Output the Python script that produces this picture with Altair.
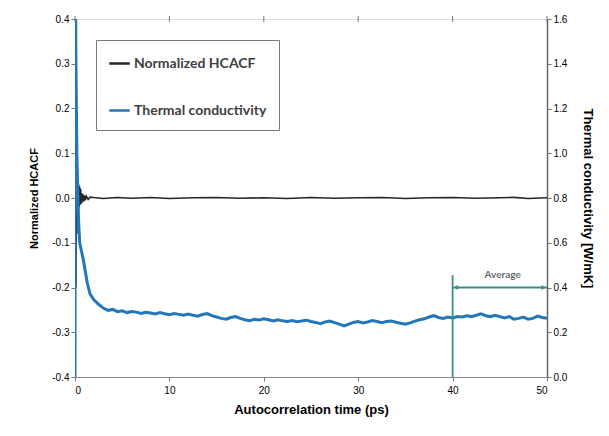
import altair as alt
import pandas as pd

# Normalized HCACF (left axis)
hcacf_t = [0, 0.02, 0.05, 0.08, 0.1, 0.13, 0.16, 0.2, 0.24, 0.28, 0.32, 0.36, 0.4, 0.45,
           0.5, 0.55, 0.6, 0.7, 0.8, 0.9, 1.0, 1.1, 1.2, 1.4, 1.6, 2.0, 3.0, 4.5, 6.0, 8.0,
           10.0, 12.5, 15.0, 17.5, 20.0, 22.5, 25.0, 27.5, 30.0, 32.5, 35.0, 37.5, 40.0,
           42.5, 45.0, 46.5, 48.0, 50.0]
hcacf_v = [1.0, 0.8, 0.45, 0.1, -0.2, -0.05, 0.06, -0.08, 0.04, -0.05, 0.035, -0.03, 0.03, -0.02,
           0.025, -0.015, 0.02, -0.012, 0.01, -0.008, 0.006, -0.005, 0.004, -0.003, 0.002, 0.001,
           -0.001, 0.001, -0.0005, 0.001, -0.001, 0.0005, 0.001, -0.0005, 0.0005, -0.001, 0.001,
           -0.0005, 0.0005, 0.001, -0.001, 0.0005, 0.001, -0.0005, 0.0005, 0.0015, -0.001, 0.0005]

# Thermal conductivity (right axis, W/mK)
tc_t = [0, 0.03, 0.1, 0.2, 0.3, 0.4, 0.5, 0.7, 0.9, 1.1, 1.3, 1.6,
        2.0, 2.5, 3.0, 3.5, 4.0, 4.5, 5.0, 5.5, 6.0, 6.5, 7.0, 7.5, 8.0, 8.5, 9.0, 9.5,
        10.0, 10.5, 11.0, 11.5, 12.0, 12.5, 13.0, 13.5, 14.0, 14.5, 15.0, 15.5, 16.0, 16.5,
        17.0, 17.5, 18.0, 18.5, 19.0, 19.5, 20.0, 20.5, 21.0, 21.5, 22.0, 22.5, 23.0, 23.5,
        24.0, 24.5, 25.0, 25.5, 26.0, 26.5, 27.0, 27.5, 28.0, 28.5, 29.0, 29.5, 30.0, 30.5,
        31.0, 31.5, 32.0, 32.5, 33.0, 33.5, 34.0, 34.5, 35.0, 35.5, 36.0, 36.5, 37.0, 37.5,
        38.0, 38.5, 39.0, 39.5, 40.0, 40.5, 41.0, 41.5, 42.0, 42.5, 43.0, 43.5, 44.0, 44.5,
        45.0, 45.5, 46.0, 46.5, 47.0, 47.5, 48.0, 48.5, 49.0, 49.5, 50.0]
tc_v = [0.0, 1.9, 1.4, 1.0, 0.8, 0.68, 0.6, 0.56, 0.52, 0.47, 0.42, 0.37,
        0.345, 0.325, 0.308, 0.298, 0.302, 0.292, 0.296, 0.288, 0.293, 0.29, 0.284, 0.289,
        0.286, 0.282, 0.288, 0.283, 0.278, 0.284, 0.28, 0.276, 0.281, 0.276, 0.272, 0.279,
        0.283, 0.274, 0.268, 0.262, 0.258, 0.266, 0.27, 0.262, 0.256, 0.252, 0.258, 0.255,
        0.26, 0.256, 0.25, 0.256, 0.251, 0.248, 0.252, 0.247, 0.25, 0.254, 0.248, 0.244,
        0.238, 0.246, 0.25, 0.243, 0.236, 0.228, 0.236, 0.244, 0.248, 0.242, 0.246, 0.252,
        0.248, 0.243, 0.248, 0.25, 0.245, 0.24, 0.236, 0.242, 0.25, 0.256, 0.26, 0.268,
        0.274, 0.266, 0.262, 0.268, 0.264, 0.27, 0.268, 0.274, 0.27, 0.276, 0.282, 0.274,
        0.27, 0.276, 0.27, 0.264, 0.27, 0.258, 0.262, 0.268, 0.258, 0.262, 0.272, 0.266, 0.262]

series_names = ["Normalized HCACF", "Thermal conductivity"]
series_colors = ["#262626", "#2377b8"]

avg_start, avg_end = 40, 50
avg_level = 0.4
avg_top = 0.455
avg_label = "Average"
avg_label_t = 45.3

x_ticks = [0, 10, 20, 30, 40, 50]
left_ticks = [-0.4, -0.3, -0.2, -0.1, 0.0, 0.1, 0.2, 0.3, 0.4]
right_ticks = [0.0, 0.2, 0.4, 0.6, 0.8, 1.0, 1.2, 1.4, 1.6]

df_h = pd.DataFrame({"t": hcacf_t, "v": hcacf_v, "series": series_names[0]})
df_tc = pd.DataFrame({"t": tc_t, "v": tc_v, "series": series_names[1]})

FONT = "Lato"
TXT = "#404040"
TEAL = "#3a8f86"

xscale = alt.Scale(domain=[0, 50], nice=False)
lscale = alt.Scale(domain=[-0.4, 0.4], nice=False)
rscale = alt.Scale(domain=[0, 1.6], nice=False)
color = alt.Color("series:N", scale=alt.Scale(domain=series_names, range=series_colors),
                  legend=alt.Legend(title=None, orient="none", legendX=21, legendY=21,
                                    strokeColor="#777", padding=12, symbolType="stroke",
                                    symbolSize=420, symbolStrokeWidth=2.5, rowPadding=28,
                                    labelFont=FONT, labelFontWeight="bold", labelFontSize=14,
                                    labelColor=TXT, labelOffset=3, fillColor="white"))

xaxis = alt.Axis(values=x_ticks, title="Autocorrelation time (ps)", format="d", grid=False,
                 tickSize=4, tickColor="#777", domainColor="#888", labelPadding=4,
                 titlePadding=8, titleFontSize=13)
laxis = alt.Axis(values=left_ticks, format=".1f",
                 labelExpr="abs(datum.value) < 0.001 ? '0.0' : datum.label",
                 title="Normalized HCACF", orient="left",
                 tickSize=4, grid=False, titlePadding=12, titleFontSize=11,
                 domainColor="#888", tickColor="#777")
raxis = alt.Axis(values=right_ticks, format=".1f", title="Thermal conductivity [W/mK]",
                 orient="right", tickSize=4, grid=False, titlePadding=14, titleFontSize=13,
                 domainColor="#666", domainWidth=1.5, tickColor="#777")

h_line = alt.Chart(df_h).mark_line(strokeWidth=1.6, clip=True).encode(
    x=alt.X("t:Q", scale=xscale, axis=xaxis),
    y=alt.Y("v:Q", scale=lscale, axis=laxis),
    color=color,
)

# small tick marks crossing the top border at each x tick
top_ticks = alt.Chart(pd.DataFrame({"t": x_ticks})).mark_rule(color="#777", strokeWidth=1).encode(
    x=alt.X("t:Q", scale=xscale, axis=xaxis),
    y=alt.value(-3),
    y2=alt.value(3),
)

tc_line = alt.Chart(df_tc).mark_line(strokeWidth=3, clip=True).encode(
    x=alt.X("t:Q", scale=xscale, axis=xaxis),
    y=alt.Y("v:Q", scale=rscale, axis=raxis),
    color=color,
)

df_vr = pd.DataFrame({"t": [avg_start], "v": [0.0], "v2": [avg_top]})
vrule = alt.Chart(df_vr).mark_rule(color=TEAL, strokeWidth=1.8).encode(
    x=alt.X("t:Q", scale=xscale, axis=xaxis),
    y=alt.Y("v:Q", scale=rscale, axis=raxis),
    y2="v2:Q",
)
df_hr = pd.DataFrame({"t": [avg_start], "t2": [avg_end], "v": [avg_level]})
hrule = alt.Chart(df_hr).mark_rule(color=TEAL, strokeWidth=1.8).encode(
    x=alt.X("t:Q", scale=xscale, axis=xaxis),
    x2="t2:Q",
    y=alt.Y("v:Q", scale=rscale, axis=raxis),
)
df_arr = pd.DataFrame({"t": [avg_start + 0.35, avg_end - 0.35], "v": [avg_level, avg_level],
                       "shape": ["triangle-left", "triangle-right"]})
arrows = alt.Chart(df_arr).mark_point(filled=True, size=25, color=TEAL, opacity=1).encode(
    x=alt.X("t:Q", scale=xscale, axis=xaxis),
    y=alt.Y("v:Q", scale=rscale, axis=raxis),
    shape=alt.Shape("shape:N", scale=None),
)
df_lab = pd.DataFrame({"t": [avg_label_t], "v": [avg_top], "label": [avg_label]})
label = alt.Chart(df_lab).mark_text(font=FONT, fontWeight="bold", fontSize=10, color="#6a6a6a",
                                    baseline="middle").encode(
    x=alt.X("t:Q", scale=xscale, axis=xaxis),
    y=alt.Y("v:Q", scale=rscale, axis=raxis),
    text="label:N",
)

right_layer = alt.layer(tc_line, vrule, hrule, arrows, label, top_ticks)

chart = alt.layer(h_line, right_layer).resolve_scale(y="independent").properties(
    width=472, height=358,
    autosize=alt.AutoSizeParams(type="none"),
    padding={"left": 67, "top": 11, "right": 50, "bottom": 45},
).configure_view(stroke="#888", strokeWidth=1.2).configure_axis(
    labelFont=FONT, titleFont=FONT, labelFontWeight="bold", titleFontWeight="bold",
    labelColor=TXT, titleColor=TXT, labelFontSize=11,
).configure(background="white")

chart.save("out.html", embed_options={
    "renderer": "svg", "actions": False,
    "formatLocale": {"decimal": ".", "thousands": ",", "grouping": [3],
                     "currency": ["$", ""], "minus": "-"},
})
